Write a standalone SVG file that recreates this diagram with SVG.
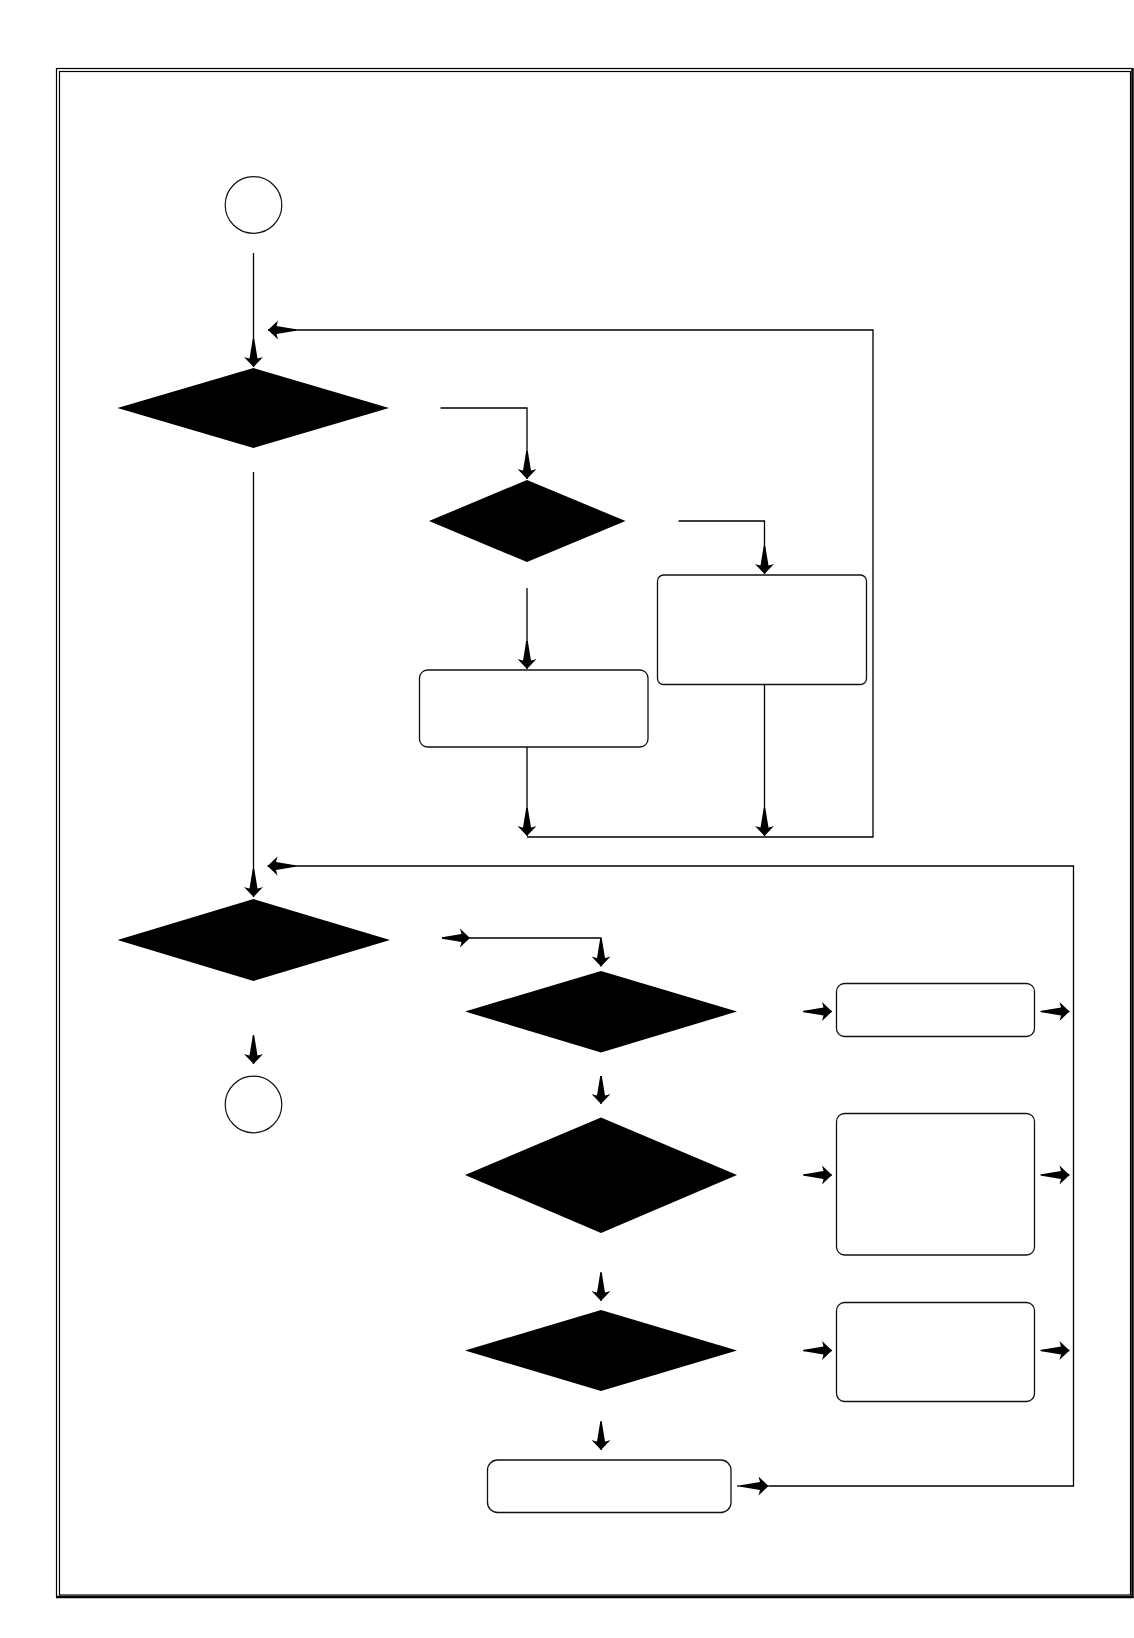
<svg xmlns="http://www.w3.org/2000/svg" width="1134" height="1638" viewBox="0 0 1134 1638">
<style>
.frame{fill:none;stroke:#000;stroke-width:1.2}
.dec{fill:#000;stroke:none}
.box{fill:#fff;stroke:#111;stroke-width:1.3}
.term{fill:#fff;stroke:#111;stroke-width:1.2}
.con{fill:none;stroke:#000;stroke-width:1.3}
</style>
<defs>
<marker id="ah" viewBox="-30 -11 32 22" refX="0" refY="0" markerWidth="32" markerHeight="22" markerUnits="userSpaceOnUse" orient="auto" overflow="visible">
<path d="M0,0 L-10,-9.5 Q-9,-6 -8.5,-4 L-28,-0.8 L-28,0.8 L-8.5,4 Q-9,6 -10,9.5 Z" fill="#000"/>
</marker>
</defs>
<rect width="1134" height="1638" fill="#fff"/>
<g id="frame">
<rect class="frame" x="56.5" y="68.5" width="1076" height="1528.5"/>
<rect class="frame" x="59.5" y="71.5" width="1071" height="1523.5"/>
<line x1="1132.5" y1="68" x2="1132.5" y2="1598" stroke="#000" stroke-width="2.4"/>
<line x1="56" y1="1597" x2="1133.5" y2="1597" stroke="#000" stroke-width="2.4"/>
</g>
<g id="start"><circle class="term" cx="253.5" cy="205" r="28.3"/></g>
<g id="dec1"><polygon class="dec" points="253.5,368 389,408 253.5,448 117.5,408"/></g>
<g id="dec2"><polygon class="dec" points="527,480 625.5,521 527,562 429,521"/></g>
<g id="boxR1"><rect class="box" x="657.5" y="575" width="209" height="109.5" rx="6"/></g>
<g id="boxL1"><rect class="box" x="419.5" y="670" width="228.5" height="77" rx="8"/></g>
<g id="dec3"><polygon class="dec" points="253.5,899 390,940 253.5,981 117.5,940"/></g>
<g id="end"><circle class="term" cx="253.5" cy="1104.5" r="28.3"/></g>
<g id="dec4"><polygon class="dec" points="601,971 737,1011.5 601,1052.5 465,1011.5"/></g>
<g id="dec5"><polygon class="dec" points="601,1117.5 737,1175 601,1233 465,1175"/></g>
<g id="dec6"><polygon class="dec" points="601,1310 737,1350.5 601,1391 465,1350.5"/></g>
<g id="boxA"><rect class="box" x="836.5" y="983.5" width="198" height="53" rx="8"/></g>
<g id="boxB"><rect class="box" x="836.5" y="1113.5" width="198" height="141.5" rx="8"/></g>
<g id="boxC"><rect class="box" x="836.5" y="1302.5" width="198" height="99" rx="8"/></g>
<g id="boxBottom"><rect class="box" x="487.5" y="1460" width="243.5" height="52.5" rx="10"/></g>
<g id="connectors">
<line class="con" x1="253.5" y1="253" x2="253.5" y2="367" marker-end="url(#ah)"/>
<polyline class="con" points="527,837 873,837 873,330 268,330" marker-end="url(#ah)"/>
<polyline class="con" points="440.5,408 527,408 527,479" marker-end="url(#ah)"/>
<polyline class="con" points="678.5,521 764.5,521 764.5,574" marker-end="url(#ah)"/>
<line class="con" x1="527" y1="588" x2="527" y2="669" marker-end="url(#ah)"/>
<line class="con" x1="527" y1="747" x2="527" y2="836" marker-end="url(#ah)"/>
<line class="con" x1="764.5" y1="684.5" x2="764.5" y2="836" marker-end="url(#ah)"/>
<line class="con" x1="253.5" y1="472" x2="253.5" y2="897" marker-end="url(#ah)"/>
<polyline class="con" points="768.5,1486 1073.5,1486 1073.5,866 267.5,866" marker-end="url(#ah)"/>
<line class="con" x1="442" y1="938" x2="470" y2="938" marker-end="url(#ah)"/>
<polyline class="con" points="470,938 601,938 601,966.5" marker-end="url(#ah)"/>
<line class="con" x1="253.5" y1="1035" x2="253.5" y2="1064" marker-end="url(#ah)"/>
<line class="con" x1="601" y1="1076" x2="601" y2="1104" marker-end="url(#ah)"/>
<line class="con" x1="601" y1="1272" x2="601" y2="1301" marker-end="url(#ah)"/>
<line class="con" x1="601" y1="1421" x2="601" y2="1450" marker-end="url(#ah)"/>
<line class="con" x1="737" y1="1486" x2="768.5" y2="1486" marker-end="url(#ah)"/>
<line class="con" x1="803" y1="1011.5" x2="832" y2="1011.5" marker-end="url(#ah)"/>
<line class="con" x1="803" y1="1175" x2="832" y2="1175" marker-end="url(#ah)"/>
<line class="con" x1="803" y1="1350.5" x2="832" y2="1350.5" marker-end="url(#ah)"/>
<line class="con" x1="1040.5" y1="1011.5" x2="1069.5" y2="1011.5" marker-end="url(#ah)"/>
<line class="con" x1="1040.5" y1="1175" x2="1069.5" y2="1175" marker-end="url(#ah)"/>
<line class="con" x1="1040.5" y1="1350.5" x2="1069.5" y2="1350.5" marker-end="url(#ah)"/>
</g>
</svg>
